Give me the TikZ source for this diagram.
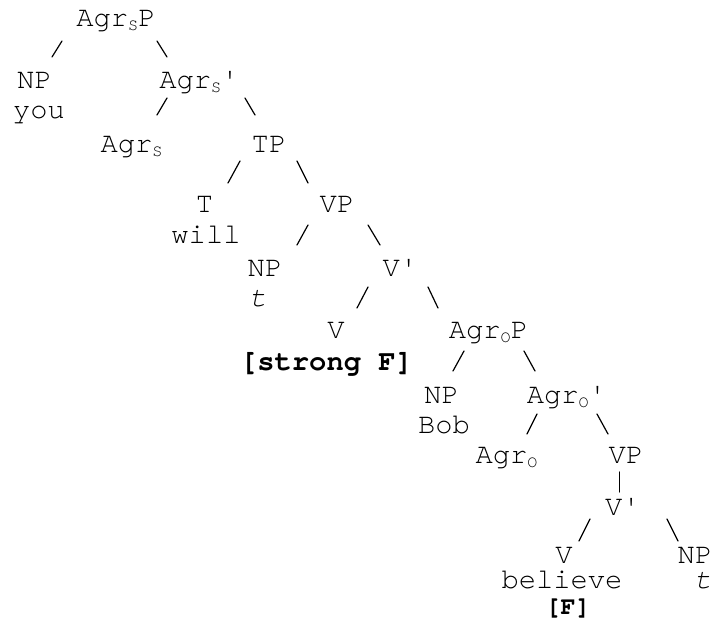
\documentclass[tikz,border=0pt]{standalone}
\usepackage{fontspec}
\setmonofont{texgyrecursor}[
    Extension=.otf,
    UprightFont=*-regular,
    BoldFont=*-bold,
    ItalicFont=*-italic,
    BoldItalicFont=*-bolditalic]
\newcommand{\agrsub}[1]{\raisebox{-2pt}{\fontsize{8.4}{8.4}\selectfont #1}}

\begin{document}
\begin{tikzpicture}[
    x=0.5pt, y=-0.5pt,
    cat/.style={font=\fontsize{14.4}{14.4}\selectfont\ttfamily, inner sep=0pt, anchor=base},
    word/.style={cat},
    feat/.style={cat, font=\fontsize{14.4}{14.4}\selectfont\ttfamily\bfseries},
    smallfeat/.style={cat, font=\fontsize{12.5}{12.5}\selectfont\ttfamily\bfseries},
    branch/.style={line width=0.6pt, line cap=round}
]
    \useasboundingbox (0,0) rectangle (712,621);

    % Subject agreement level
    \node [cat] (agrsp) at (116,26) {Agr\agrsub{S}P};
    \node [cat] (np1) at (34.5,88) {NP};
    \node [word] (you) at (39,118) {you};
    \node [cat] (agrsbar) at (199,88) {Agr\agrsub{S}'};
    \node [cat] (agrs) at (131.5,152) {Agr\agrsub{S}};
    \node [cat] (tp) at (269,152) {TP};

    % Tense and upper VP
    \node [cat] (t) at (204.5,212) {T};
    \node [word] (will) at (206,243) {will};
    \node [cat] (vp1) at (337,212) {VP};
    \node [cat] (np2) at (265,276) {NP};
    \node [word] (trace1) at (258,306) {\itshape t};
    \node [cat] (vbar1) at (400,276) {V'};
    \node [cat] (v1) at (336,338) {V};
    \node [feat] (strong) at (326.5,370) {[strong F]};

    % Object agreement level
    \node [cat] (agrop) at (488.5,338) {Agr\agrsub{O}P};
    \node [cat] (np3) at (441.5,403) {NP};
    \node [word] (bob) at (444,433) {Bob};
    \node [cat] (agrobar) at (566.5,403) {Agr\agrsub{O}'};
    \node [cat] (agro) at (506.5,463) {Agr\agrsub{O}};
    \node [cat] (vp2) at (626,463) {VP};

    % Lower VP
    \node [cat] (vbar2) at (622.5,515) {V'};
    \node [cat] (v2) at (564,563) {V};
    \node [word] (believe) at (562,588) {believe};
    \node [smallfeat] (weak) at (568,614) {[F]};
    \node [cat] (np4) at (695,563) {NP};
    \node [word] (trace2) at (703,588) {\itshape t};

    % Branch ends
    \coordinate (agrsp-l) at (62,41);    \coordinate (np1-t) at (52,57);
    \coordinate (agrsp-r) at (157,41);   \coordinate (agrsbar-t) at (167,57);
    \coordinate (agrsbar-l) at (167,98); \coordinate (agrs-t) at (157,115);
    \coordinate (agrsbar-r) at (245,98); \coordinate (tp-t) at (255,115);
    \coordinate (tp-l) at (240,161);     \coordinate (t-t) at (228,183);
    \coordinate (tp-r) at (297,161);     \coordinate (vp1-t) at (308,183);
    \coordinate (vp1-l) at (308,225);    \coordinate (np2-t) at (297,245);
    \coordinate (vp1-r) at (368,225);    \coordinate (vbar1-t) at (380,245);
    \coordinate (vbar1-l) at (368,287);  \coordinate (v1-t) at (357,308);
    \coordinate (vbar1-r) at (428,287);  \coordinate (agrop-t) at (438,308);
    \coordinate (agrop-l) at (464,351);  \coordinate (np3-t) at (453,371);
    \coordinate (agrop-r) at (524,351);  \coordinate (agrobar-t) at (535,371);
    \coordinate (agrobar-l) at (537,414);\coordinate (agro-t) at (527,434);
    \coordinate (agrobar-r) at (597,414);\coordinate (vp2-t) at (608,434);
    \coordinate (vp2-b) at (619.5,472);  \coordinate (vbar2-t) at (619.5,492);
    \coordinate (vbar2-l) at (590,519);  \coordinate (v2-t) at (579,541);
    \coordinate (vbar2-r) at (667,519);  \coordinate (np4-t) at (678,541);

    % Branches
    \draw [branch] (agrsp-l) -- (np1-t);
    \draw [branch] (agrsp-r) -- (agrsbar-t);
    \draw [branch] (agrsbar-l) -- (agrs-t);
    \draw [branch] (agrsbar-r) -- (tp-t);
    \draw [branch] (tp-l) -- (t-t);
    \draw [branch] (tp-r) -- (vp1-t);
    \draw [branch] (vp1-l) -- (np2-t);
    \draw [branch] (vp1-r) -- (vbar1-t);
    \draw [branch] (vbar1-l) -- (v1-t);
    \draw [branch] (vbar1-r) -- (agrop-t);
    \draw [branch] (agrop-l) -- (np3-t);
    \draw [branch] (agrop-r) -- (agrobar-t);
    \draw [branch] (agrobar-l) -- (agro-t);
    \draw [branch] (agrobar-r) -- (vp2-t);
    \draw [branch] (vp2-b) -- (vbar2-t);
    \draw [branch] (vbar2-l) -- (v2-t);
    \draw [branch] (vbar2-r) -- (np4-t);
\end{tikzpicture}
\end{document}
